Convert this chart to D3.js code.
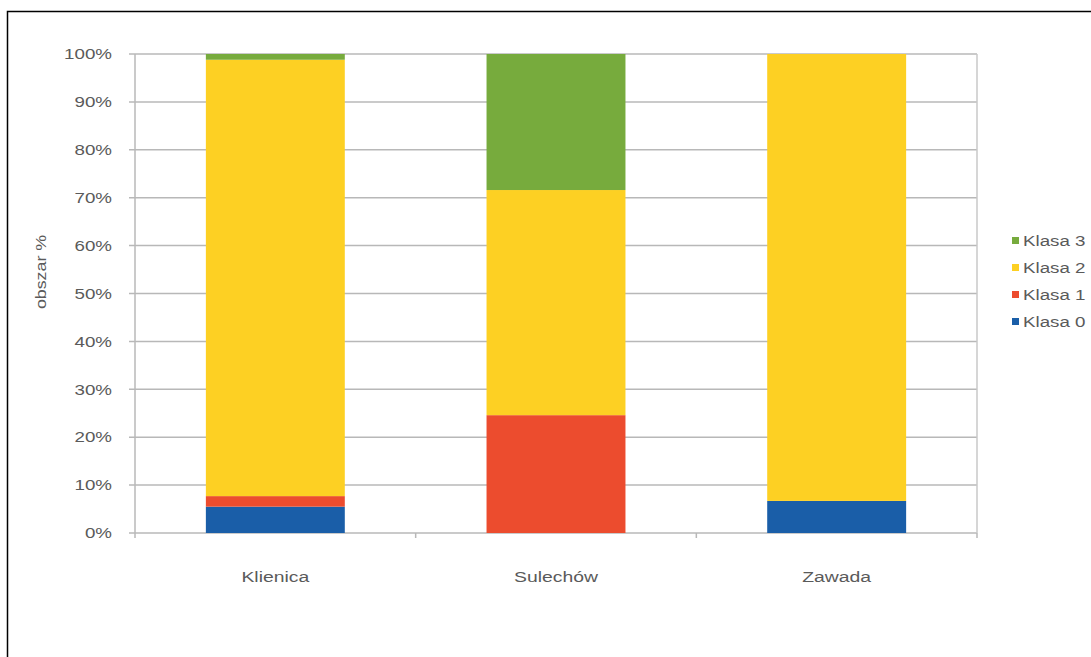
<!DOCTYPE html>
<html><head><meta charset="utf-8">
<script src="https://cdn.jsdelivr.net/npm/d3@7"></script>
<style>body{margin:0;background:#fff;}svg{display:block;font-family:"Liberation Sans",Arial,sans-serif;}</style>
</head><body>
<svg id="c" width="1091" height="657"></svg>
<script>
const categories = ["Klienica", "Sulechów", "Zawada"];
const seriesNames = ["Klasa 0", "Klasa 1", "Klasa 2", "Klasa 3"];
const klasa0 = [5.5, 0, 6.7];
const klasa1 = [2.2, 24.6, 0];
const klasa2 = [91.1, 47.0, 93.3];
const klasa3 = [1.2, 28.4, 0];
const colors = ["#1a5ea8", "#ec4c2e", "#fdd023", "#77ab3d"];
const tickValues = [0,10,20,30,40,50,60,70,80,90,100];

const svg = d3.select("#c");
// outer frame
svg.append("rect").attr("x",7.5).attr("y",11.5).attr("width",1200).attr("height",700)
  .attr("fill","none").attr("stroke","#000").attr("stroke-width",1.5);

const m = {l:135, r:977, t:54, b:533};
const x = d3.scaleBand().domain(categories).range([m.l, m.r]).paddingInner(0.505).paddingOuter(0.2525);
const y = d3.scaleLinear().domain([0,100]).range([m.b, m.t]);

const rows = categories.map((c,i)=>({cat:c, "Klasa 0":klasa0[i], "Klasa 1":klasa1[i], "Klasa 2":klasa2[i], "Klasa 3":klasa3[i]}));
const stack = d3.stack().keys(seriesNames)(rows);

// gridlines
svg.append("g").selectAll("line").data(tickValues).join("line")
  .attr("x1", m.l-6).attr("x2", m.r).attr("y1", d=>y(d)).attr("y2", d=>y(d))
  .attr("stroke","#b8b8b8").attr("stroke-width",1.5);
// right border of plot
svg.append("line").attr("x1",m.r).attr("x2",m.r).attr("y1",m.t).attr("y2",m.b)
  .attr("stroke","#c8c8c8").attr("stroke-width",1.5);
// y axis line
svg.append("line").attr("x1",m.l).attr("x2",m.l).attr("y1",m.t).attr("y2",m.b)
  .attr("stroke","#b8b8b8").attr("stroke-width",1.5);
// x category ticks
const bw = (m.r-m.l)/categories.length;
svg.append("g").selectAll("line").data(d3.range(categories.length+1)).join("line")
  .attr("x1", d=>m.l+d*bw).attr("x2", d=>m.l+d*bw).attr("y1", m.b).attr("y2", m.b+5)
  .attr("stroke","#b8b8b8").attr("stroke-width",1.5);

// bars
svg.append("g").selectAll("g").data(stack).join("g")
  .attr("fill",(d,i)=>colors[i])
  .selectAll("rect").data(d=>d).join("rect")
  .attr("x", d=>x(d.data.cat)).attr("width", x.bandwidth())
  .attr("y", d=>y(d[1])).attr("height", d=>y(d[0])-y(d[1]));

const txt = "#5a5a5a";
const sx = 1.25;
// y tick labels
svg.append("g").selectAll("text").data(tickValues).join("text")
  .attr("transform", d=>`translate(112,${y(d)}) scale(${sx},1)`).attr("dy","0.35em").attr("text-anchor","end")
  .attr("font-size",15).attr("fill",txt).text(d=>d+"%");

// x labels
svg.append("g").selectAll("text").data(categories).join("text")
  .attr("transform", d=>`translate(${x(d)+x.bandwidth()/2},582) scale(${sx},1)`).attr("text-anchor","middle")
  .attr("font-size",15.5).attr("fill",txt).text(d=>d);

// y axis title
svg.append("text").attr("transform","translate(46,272) rotate(-90) scale(1.15,1)").attr("text-anchor","middle")
  .attr("font-size",15.5).attr("fill",txt).text("obszar %");

// legend (reverse order)
const leg = seriesNames.map((n,i)=>({n, c:colors[i]})).reverse();
const lg = svg.append("g").selectAll("g").data(leg).join("g")
  .attr("transform",(d,i)=>`translate(1012,${241+i*27})`);
lg.append("rect").attr("x",0).attr("y",-4).attr("width",7).attr("height",7).attr("fill",d=>d.c);
lg.append("text").attr("transform",`translate(11,0) scale(${sx},1)`).attr("dy","0.35em").attr("font-size",15).attr("fill",txt).text(d=>d.n);
</script>
</body></html>
